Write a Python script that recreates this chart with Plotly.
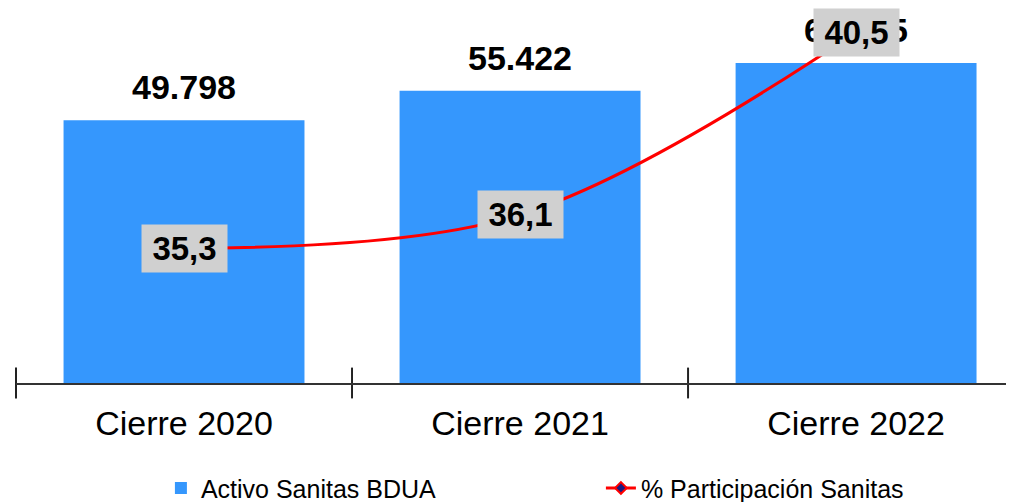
import plotly.graph_objects as go

categories = ["Cierre 2020", "Cierre 2021", "Cierre 2022"]
activo = [49798, 55422, 60665]
activo_labels = ["49.798", "55.422", "60.665"]
participacion = [35.3, 36.1, 40.5]
participacion_labels = ["35,3", "36,1", "40,5"]

FONT = "Liberation Sans, Arial, sans-serif"
XR = [-0.5, 2.470]
# category boundaries, where the axis tick marks sit
boundaries = [i - 0.5 for i in range(len(categories) + 1)]

fig = go.Figure()
fig.add_trace(go.Bar(
    x=categories, y=activo, name="Activo Sanitas BDUA",
    marker=dict(color="#3597fd", line=dict(width=0)),
    width=0.717, xaxis="x", yaxis="y",
))
fig.add_trace(go.Scatter(
    x=categories, y=participacion, name="% Participación Sanitas",
    mode="lines+markers",
    line=dict(color="#ff0000", width=3, shape="spline"),
    marker=dict(symbol="diamond", size=9, color="#1a1a80", line=dict(color="#ff0000", width=2)),
    xaxis="x", yaxis="y2",
))
# crossing tick marks on the category axis (one at each category boundary)
fig.add_trace(go.Scatter(
    x=boundaries, y=[0] * len(boundaries), mode="markers",
    marker=dict(symbol="line-ns", size=22, line=dict(color="#222222", width=2)),
    xaxis="x2", yaxis="y", showlegend=False, hoverinfo="skip", cliponaxis=False,
))

annotations = []
for c, v, t in zip(categories, activo, activo_labels):
    annotations.append(dict(
        x=c, y=v, xref="x", yref="y", text=t, showarrow=False,
        xanchor="center", yanchor="bottom", yshift=12,
        font=dict(family=FONT, size=34, color="#000000", weight="bold"),
    ))
for c, v, t in zip(categories, participacion, participacion_labels):
    annotations.append(dict(
        x=c, y=v, xref="x", yref="y2", text=t, showarrow=False,
        xanchor="center", yanchor="middle", width=81, height=43,
        bgcolor="#d0d0d0", borderpad=2,
        font=dict(family=FONT, size=33, color="#000000", weight="bold"),
    ))

fig.update_layout(
    width=1006, height=494,
    margin=dict(l=8, r=0, t=0, b=119, autoexpand=False),
    paper_bgcolor="white", plot_bgcolor="white",
    font=dict(family=FONT, color="#000000"),
    showlegend=True,
    legend=dict(
        orientation="h", xref="container", yref="container",
        x=0.152, xanchor="left", y=0.028, yanchor="middle",
        font=dict(family=FONT, size=25, color="#000000"),
        entrywidth=395, bgcolor="rgba(0,0,0,0)",
    ),
    xaxis=dict(
        type="category", range=XR, showgrid=False, zeroline=False, automargin=False,
        showline=True, linecolor="#333333", linewidth=2,
        ticks="", tickson="boundaries",
        tickfont=dict(family=FONT, size=34, color="#000000"), ticklabelstandoff=9,
    ),
    xaxis2=dict(
        type="linear", range=XR, overlaying="x", anchor="y", visible=False,
        showgrid=False, zeroline=False, automargin=False,
    ),
    yaxis=dict(range=[0, 71090], visible=False, showgrid=False, automargin=False),
    yaxis2=dict(range=[32.047, 41.083], overlaying="y", visible=False, showgrid=False, automargin=False),
    annotations=annotations,
)

fig.write_html("out.html")
